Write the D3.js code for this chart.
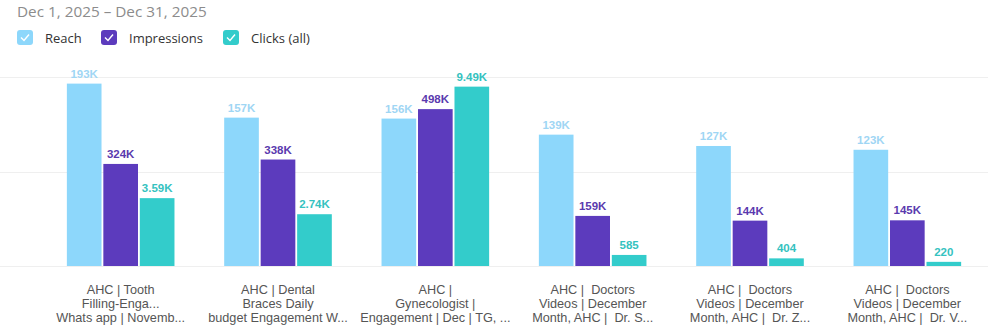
<!DOCTYPE html>
<html><head><meta charset="utf-8">
<script src="https://cdn.jsdelivr.net/npm/d3@7/dist/d3.min.js"></script>
<style>
html,body{margin:0;padding:0;background:#fff;}
svg{display:block;}
</style></head>
<body>
<svg id="chart" width="988" height="330"></svg>
<script>
const title = "Dec 1, 2025 \u2013 Dec 31, 2025";
const categories = [
  ["AHC | Tooth", "Filling-Enga...", "Whats app | Novemb..."],
  ["AHC | Dental", "Braces Daily", "budget Engagement W..."],
  ["AHC |", "Gynecologist |", "Engagement | Dec | TG, ..."],
  ["AHC |  Doctors", "Videos | December", "Month, AHC |  Dr. S..."],
  ["AHC |  Doctors", "Videos | December", "Month, AHC |  Dr. Z..."],
  ["AHC |  Doctors", "Videos | December", "Month, AHC |  Dr. V..."]
];
const seriesNames = ["Reach", "Impressions", "Clicks (all)"];
const reach = [193000, 157000, 156000, 139000, 127000, 123000];
const impressions = [324000, 338000, 498000, 159000, 144000, 145000];
const clicks = [3590, 2740, 9490, 585, 404, 220];
const seriesMax = [200000, 600000, 10000];
const colors = ["#8dd7fb", "#5c3bbd", "#33cccb"];
const labelColors = ["#9fd6f4", "#5a3aae", "#35c2c0"];

const series = [reach, impressions, clicks];
const svg = d3.select("#chart");

// title
svg.append("text").attr("x", 17).attr("y", 17)
  .attr("font-family", "'Open Sans', sans-serif").attr("font-size", 15.3)
  .attr("fill", "#8c8c8c").text(title);

// legend
const legX = [17, 101, 223];
seriesNames.forEach((n, i) => {
  const g = svg.append("g").attr("transform", `translate(${legX[i]},30)`);
  g.append("rect").attr("width", 16).attr("height", 15).attr("rx", 3).attr("fill", colors[i]);
  g.append("path").attr("d", "M4,7.5 L7,10.5 L12,4.5").attr("fill", "none")
    .attr("stroke", "#fff").attr("stroke-width", 1.4);
  g.append("text").attr("x", 28).attr("y", 13)
    .attr("font-family", "'Open Sans', sans-serif").attr("font-size", 13)
    .attr("fill", "#333").text(n);
});

const plotTop = 77, plotBase = 266;
const x0 = d3.scaleBand().domain(d3.range(categories.length)).range([42, 986])
  .paddingInner(0.316).paddingOuter(0.158);
const x1 = d3.scaleBand().domain(d3.range(3)).range([0, x0.bandwidth()]).paddingInner(0.05);
const yScales = seriesMax.map(m => d3.scaleLinear().domain([0, m]).range([plotBase, plotTop]));

// gridlines from the first scale's ticks
const grid = yScales[0].ticks(2);
svg.append("g").selectAll("line").data(grid).join("line")
  .attr("x1", 0).attr("x2", 988)
  .attr("y1", d => Math.round(yScales[0](d)) + 0.5).attr("y2", d => Math.round(yScales[0](d)) + 0.5)
  .attr("stroke", "#efefef").attr("stroke-width", 1);

const fmt = v => v >= 1000 ? d3.format(".3s")(v).replace("k", "K") : String(v);

const groups = svg.append("g").selectAll("g").data(categories).join("g")
  .attr("transform", (d, i) => `translate(${x0(i)},0)`);

groups.each(function(d, ci) {
  const g = d3.select(this);
  series.forEach((s, si) => {
    const y = yScales[si];
    g.append("rect").attr("x", x1(si)).attr("width", x1.bandwidth())
      .attr("y", y(s[ci])).attr("height", plotBase - y(s[ci])).attr("fill", colors[si]);
    g.append("text").attr("x", x1(si) + x1.bandwidth() / 2).attr("y", y(s[ci]) - 6)
      .attr("text-anchor", "middle").attr("font-family", "'Liberation Sans', Arial, sans-serif")
      .attr("font-weight", "bold").attr("font-size", 11.5).attr("fill", labelColors[si])
      .text(fmt(s[ci]));
  });
  const t = g.append("text").attr("text-anchor", "middle")
    .attr("font-family", "'Liberation Sans', Arial, sans-serif").attr("font-size", 12.7)
    .attr("fill", "#555").style("white-space", "pre");
  d.forEach((line, li) => {
    t.append("tspan").attr("x", x0.bandwidth() / 2).attr("y", 294 + li * 14).text(line);
  });
});
</script>
</body></html>
